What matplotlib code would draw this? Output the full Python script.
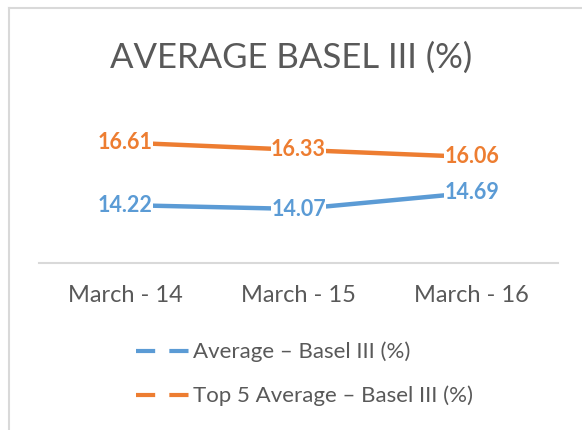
import matplotlib.pyplot as plt
from matplotlib.lines import Line2D

# data
categories = ["March - 14", "March - 15", "March - 16"]
average = [14.22, 14.07, 14.69]
top5_average = [16.61, 16.33, 16.06]
series_names = ["Average \u2013 Basel III (%)", "Top 5 Average \u2013 Basel III (%)"]

BLUE = "#5B9BD5"
ORANGE = "#ED7D31"
GREY = "#595959"

plt.rcParams["font.family"] = ["Lato", "DejaVu Sans"]

fig = plt.figure(figsize=(5.82, 4.30), dpi=100)
ax = fig.add_axes([0.067, 0.388, 0.892, 0.365])

x = range(len(categories))
for vals, color in [(average, BLUE), (top5_average, ORANGE)]:
    ax.plot(x, vals, color=color, linewidth=3.2, solid_capstyle="round", zorder=2)
    for xi, v in zip(x, vals):
        ax.text(xi, v, f"{v:.2f}", ha="center", va="center", color=color,
                fontsize=15.5, fontweight="bold", zorder=3,
                bbox=dict(facecolor="white", edgecolor="none", pad=0.3))

ax.set_xlim(-0.5, len(categories) - 0.5)
ax.set_ylim(12, 18)
ax.set_xticks(list(x))
ax.set_xticklabels(categories, fontsize=17, color=GREY)
ax.tick_params(axis="x", length=0, pad=16)
ax.set_yticks([])
for side in ["top", "right", "left"]:
    ax.spines[side].set_visible(False)
ax.spines["bottom"].set_color("#D9D9D9")
ax.spines["bottom"].set_linewidth(1.5)

fig.text(0.5, 0.866, "AVERAGE BASEL III (%)", ha="center", va="center",
         fontsize=25, color=GREY)

# legend
handles = [Line2D([], [], color=c, linewidth=3, dashes=(4.6, 3.4))
           for c in (BLUE, ORANGE)]
fig.legend(handles, series_names, loc="center left", bbox_to_anchor=(0.2, 0.13),
           frameon=False, fontsize=16, labelcolor=GREY, handlelength=2.4,
           handletextpad=0.15, labelspacing=1.05)

# chart border
fig.add_artist(Line2D([0.016, 1.0], [0.981, 0.981], transform=fig.transFigure,
                      color="#D9D9D9", linewidth=1.5))
fig.add_artist(Line2D([0.016, 0.016], [0.0, 0.981], transform=fig.transFigure,
                      color="#D9D9D9", linewidth=1.5))

fig.savefig("out.png", dpi=100)
